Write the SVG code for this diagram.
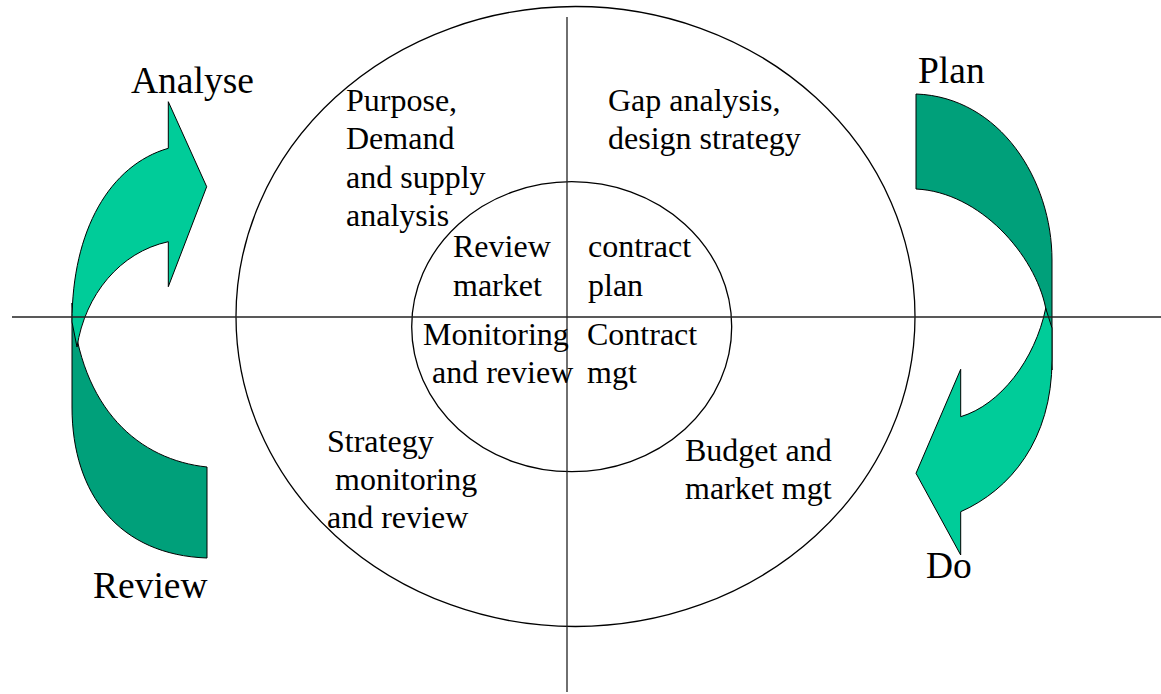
<svg xmlns="http://www.w3.org/2000/svg" width="1161" height="694" viewBox="0 0 1161 694">
<style>
.t{font-family:'Liberation Serif','Tinos','Times New Roman','DejaVu Serif',serif;fill:#000;}
.s{font-size:32px;}
.b{font-size:37.5px;}
.light{fill:#00CC99;stroke:#000;stroke-width:1;}
.dark{fill:#00A07A;stroke:#000;stroke-width:1;}
.ring{fill:none;stroke:#000;stroke-width:1.3;}
.ax{stroke:#222;stroke-width:1.3;fill:none;}
</style>
<rect width="1161" height="694" fill="#fff"/>
<g id="arrow-review-analyse">
<path class="dark" d="M72,303 L72,407 C72,495 120,555 207,558 L207,467 C140,460 80,410 72,303 Z"/>
<path class="light" d="M168.3,148.3 L168.3,101.7 L206.7,186.7 L168.3,286.7 L168.3,241.7 C120,252 85,295 77,347 L72,322 C72,230 110,165 168.3,148.3 Z"/>
</g>
<g id="arrow-plan-do">
<path class="dark" d="M916,94 C1000,97 1052,180 1052,260 L1052,370 C1050,340 1048,320 1045.7,308 C1035,255 980,192 916,189 Z"/>
<path class="light" d="M960.7,416.7 L960.7,369.3 L916,473.3 L960.7,555 L960.7,511.7 C1010,490 1052,440 1052,360 L1052,328 L1045.7,308.3 C1035,360 1000,405 960.7,416.7 Z"/>
</g>
<g id="outer-circle"><ellipse class="ring" cx="575.5" cy="316.5" rx="339.5" ry="310"/></g>
<g id="inner-circle"><ellipse class="ring" cx="571.7" cy="326.7" rx="160" ry="145"/></g>
<g id="connectors">
<line class="ax" x1="12" y1="317" x2="1161" y2="317"/>
<line class="ax" x1="567" y1="17" x2="567" y2="692"/>
</g>
<g id="label-analyse"><text class="t b" font-family="Liberation Serif, DejaVu Serif, serif" x="131" y="93">Analyse</text></g>
<g id="label-review"><text class="t b" font-family="Liberation Serif, DejaVu Serif, serif" x="93" y="598">Review</text></g>
<g id="label-plan"><text class="t b" font-family="Liberation Serif, DejaVu Serif, serif" x="918" y="83">Plan</text></g>
<g id="label-do"><text class="t b" font-family="Liberation Serif, DejaVu Serif, serif" x="926" y="578">Do</text></g>
<g id="quad-purpose"><text class="t s" font-family="Liberation Serif, DejaVu Serif, serif"><tspan x="346" y="111">Purpose,</tspan><tspan x="346" y="149">Demand</tspan><tspan x="346" y="188">and supply</tspan><tspan x="346" y="226">analysis</tspan></text></g>
<g id="quad-gap"><text class="t s" font-family="Liberation Serif, DejaVu Serif, serif"><tspan x="608" y="111">Gap analysis,</tspan><tspan x="608" y="149">design strategy</tspan></text></g>
<g id="quad-strategy"><text class="t s" font-family="Liberation Serif, DejaVu Serif, serif"><tspan x="327" y="452">Strategy</tspan><tspan x="335" y="490">monitoring</tspan><tspan x="327" y="528">and review</tspan></text></g>
<g id="quad-budget"><text class="t s" font-family="Liberation Serif, DejaVu Serif, serif"><tspan x="685" y="461">Budget and</tspan><tspan x="685" y="499">market mgt</tspan></text></g>
<g id="inner-review"><text class="t s" font-family="Liberation Serif, DejaVu Serif, serif"><tspan x="453" y="257">Review</tspan><tspan x="453" y="296">market</tspan></text></g>
<g id="inner-contract-plan"><text class="t s" font-family="Liberation Serif, DejaVu Serif, serif"><tspan x="588" y="257">contract</tspan><tspan x="588" y="296">plan</tspan></text></g>
<g id="inner-monitoring"><text class="t s" font-family="Liberation Serif, DejaVu Serif, serif"><tspan x="423" y="345">Monitoring</tspan><tspan x="432" y="383">and review</tspan></text></g>
<g id="inner-contract-mgt"><text class="t s" font-family="Liberation Serif, DejaVu Serif, serif"><tspan x="587" y="345">Contract</tspan><tspan x="587" y="383">mgt</tspan></text></g>
</svg>
